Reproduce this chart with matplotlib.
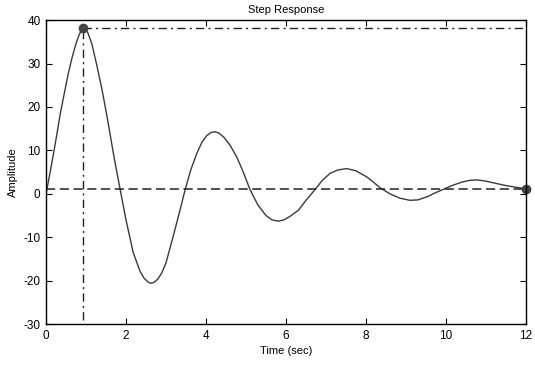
import matplotlib
matplotlib.use('Agg')
import matplotlib.pyplot as plt

# values
time_sec = [0, 0.1, 0.18, 0.27, 0.35, 0.45, 0.55, 0.65, 0.75, 0.82, 0.88, 0.93, 0.98, 1.05,
            1.15, 1.27, 1.4, 1.52, 1.7, 1.85,
            2.0, 2.18, 2.35, 2.45, 2.55, 2.62, 2.7, 2.8, 2.9, 3.0, 3.18, 3.33, 3.48, 3.62, 3.77, 3.9,
            4.02, 4.12, 4.22, 4.32, 4.45, 4.6, 4.77, 4.95, 5.1, 5.3, 5.5, 5.65, 5.81, 5.95, 6.1,
            6.31, 6.5, 6.73, 6.9, 7.1, 7.3, 7.52, 7.75, 8.02, 8.2, 8.35, 8.6, 8.85,
            9.1, 9.3, 9.55, 9.75, 9.93, 10.15, 10.4, 10.6, 10.77, 10.95, 11.2, 11.5, 11.75, 12.0]
amplitude = [0, 4.8, 8.9, 13.6, 18.1, 22.8, 27.4, 31.3, 34.6, 36.4, 37.6, 38.2, 38.0, 37.0,
             34.4, 29.6, 24.0, 18.1, 8.5, 1.2,
             -6.0, -13.5, -17.8, -19.4, -20.3, -20.6, -20.4, -19.6, -18.1, -15.9, -9.8, -4.5, 1.0, 5.5, 9.3, 11.9,
             13.4, 14.1, 14.3, 14.0, 13.0, 11.2, 8.5, 4.6, 1.0, -2.6, -5.0, -6.0, -6.3, -6.0, -5.2,
             -3.8, -1.5, 1.0, 3.0, 4.7, 5.5, 5.8, 5.3, 3.9, 2.6, 1.4, 0.0, -1.0,
             -1.5, -1.4, -0.6, 0.3, 1.0, 1.9, 2.7, 3.1, 3.2, 3.0, 2.5, 1.9, 1.5, 1.2]
steady_value = 1.0
peak_time = 0.93
peak_value = 38.2
y_bottom = -30

plt.rcParams['font.family'] = ['Liberation Sans', 'DejaVu Sans']
plt.rcParams['axes.unicode_minus'] = False
fig = plt.figure(figsize=(5.35, 3.65), dpi=100)
ax = fig.add_axes([0.086, 0.112, 0.897, 0.833])

ax.plot(time_sec, amplitude, '-', color='#3a3a3a', lw=1.0)
ax.plot([0, 12], [steady_value, steady_value], '--', color='#222222', lw=1.1, dashes=(6, 3))
ax.plot([peak_time, peak_time], [y_bottom + 1, peak_value], '-.', color='#222222', lw=1.0,
        dashes=(6, 3, 1.5, 3))
ax.plot([peak_time, 12], [peak_value, peak_value], '-.', color='#222222', lw=1.0,
        dashes=(6, 3, 1.5, 3))
ax.plot([peak_time], [peak_value], 'o', color='#444444', ms=6)
ax.plot([12], [amplitude[-1]], 'o', color='#444444', ms=6, clip_on=False)

ax.set_xlim(0, 12)
ax.set_ylim(-30, 40)
ax.set_xticks([0, 2, 4, 6, 8, 10, 12])
ax.set_yticks([-30, -20, -10, 0, 10, 20, 30, 40])
ax.tick_params(direction='in', top=True, right=True, labelsize=8.5, length=4, width=0.8, pad=4)
for s in ax.spines.values():
    s.set_linewidth(1.0)
ax.set_title('Step Response', fontsize=8, pad=5)
ax.set_xlabel('Time (sec)', fontsize=8, labelpad=3)
ax.set_ylabel('Amplitude', fontsize=8, labelpad=4)

plt.savefig('out.png', dpi=100)
